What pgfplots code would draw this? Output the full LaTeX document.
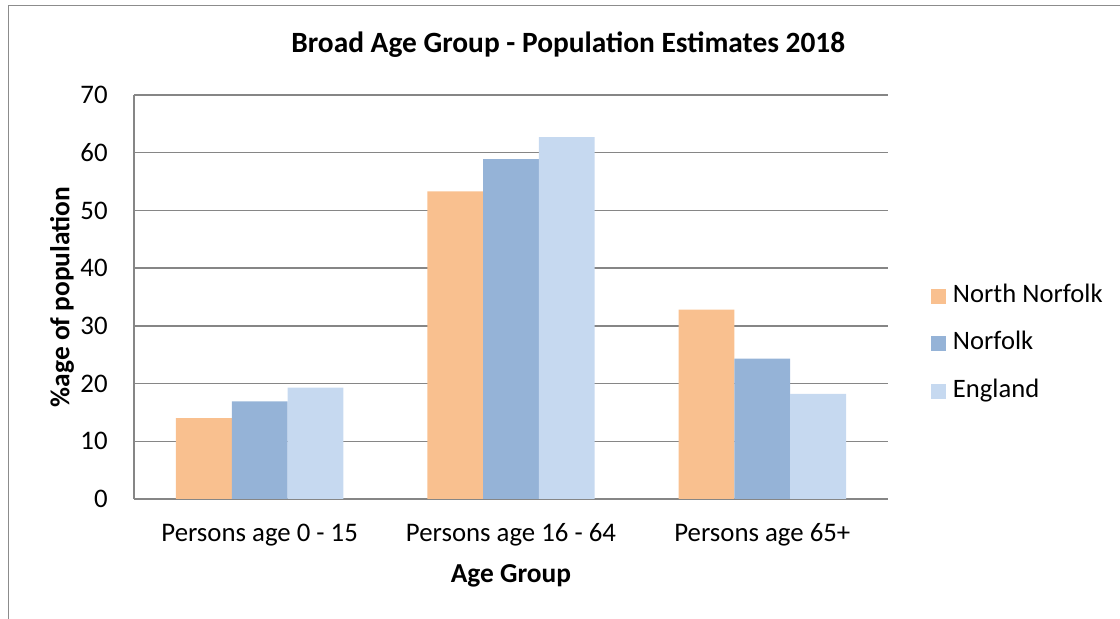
\documentclass[border=0pt]{standalone}
\usepackage{fontspec}
\setmainfont{Carlito}
\usepackage{pgfplots}
\pgfplotsset{compat=1.18}

\definecolor{nnorfolk}{RGB}{249,192,143}
\definecolor{norfolk}{RGB}{149,179,215}
\definecolor{england}{RGB}{198,217,240}
\definecolor{gridgray}{RGB}{134,134,134}
\definecolor{framegray}{RGB}{140,140,140}

\begin{document}
\begin{tikzpicture}[x=1pt,y=1pt]
  \useasboundingbox (0,0) rectangle (560,309.5);
  % chart frame (top and left edges)
  \draw[framegray, line width=0.5pt] (4,0) -- (4,306.75) -- (560,306.75);

  \begin{axis}[
    at={(67pt,60pt)}, anchor=south west,
    scale only axis,
    width=377pt, height=202pt,
    ybar=0pt, bar width=27.9pt,
    xmin=-0.5, xmax=2.5,
    ymin=0, ymax=70,
    ytick={0,10,...,70},
    xtick={0,1,2},
    xticklabels={Persons age 0 - 15, Persons age 16 - 64, Persons age 65+},
    major tick length=0pt,
    axis x line*=bottom, axis y line*=left,
    axis line style={gridgray, line width=0.7pt, -},
    ymajorgrids, grid style={gridgray, line width=0.7pt},
    /pgf/number format/assume math mode=true,
    tick label style={font=\fontsize{13.4}{15}\selectfont, black},
    yticklabel style={anchor=east, inner sep=0pt, xshift=-13pt},
    xticklabel style={anchor=base, inner sep=0pt, yshift=-21.5pt},
    title={Broad Age Group - Population Estimates 2018},
    title style={font=\fontsize{14.7}{17}\selectfont\bfseries,
      at={(axis description cs:0.576,1)}, anchor=center, yshift=19pt},
    xlabel={Age Group},
    xlabel style={font=\fontsize{13.7}{15}\selectfont\bfseries,
      at={(axis description cs:0.5,0)}, anchor=base, yshift=-42pt},
    ylabel={\%age of population},
    ylabel style={font=\fontsize{13.7}{15}\selectfont\bfseries,
      at={(axis description cs:0,0.5)}, anchor=center, yshift=36pt},
    legend style={at={(axis description cs:1.057,0.384)}, anchor=west,
      draw=none, fill=none, inner sep=0pt, outer sep=0pt,
      font=\fontsize{13.3}{15}\selectfont, row sep=11.75pt, column sep=3.5pt,
      nodes={inner sep=0pt, outer sep=0pt, text height=9pt, text depth=3pt}},
    legend cell align=left,
    legend image code/.code={\fill[#1] (0pt,-3.75pt) rectangle (7.5pt,3.75pt);},
  ]
    \addplot[fill=nnorfolk, draw=none] coordinates {(0,14.0) (1,53.3) (2,32.8)};
    \addplot[fill=norfolk, draw=none] coordinates {(0,16.9) (1,58.9) (2,24.3)};
    \addplot[fill=england, draw=none] coordinates {(0,19.3) (1,62.7) (2,18.2)};
    \legend{North Norfolk, Norfolk, England}
  \end{axis}
\end{tikzpicture}
\end{document}
